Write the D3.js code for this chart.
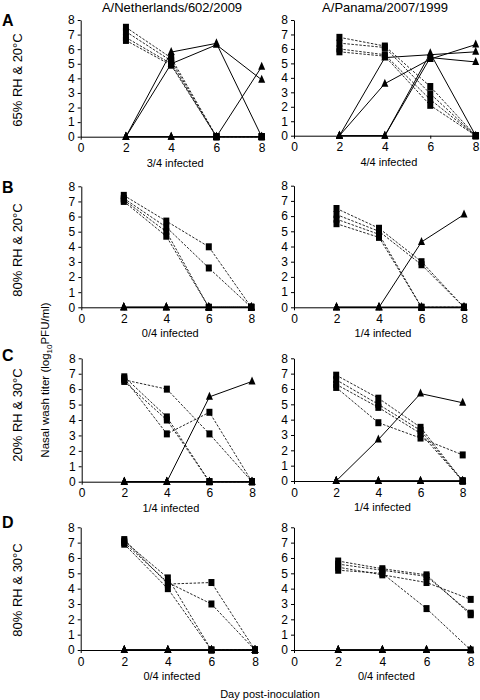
<!DOCTYPE html>
<html><head><meta charset="utf-8">
<script src="https://cdn.jsdelivr.net/npm/d3@7"></script>
<style>
body{margin:0;background:#fff;}
svg{display:block;font-family:"Liberation Sans",Arial,sans-serif;}
</style></head>
<body><svg id="c" width="480" height="700"></svg>
<script>
// ---------- data ----------
const days = [2, 4, 6, 8];
const yTicks = [0, 1, 2, 3, 4, 5, 6, 7, 8];
const xTicks = [0, 2, 4, 6, 8];
const strains = ["A/Netherlands/602/2009", "A/Panama/2007/1999"];
const conditions = ["65% RH & 20°C", "80% RH & 20°C", "20% RH & 30°C", "80% RH & 30°C"];
const rowLetters = ["A", "B", "C", "D"];
const infectedLabels = [["3/4 infected", "4/4 infected"], ["0/4 infected", "1/4 infected"], ["1/4 infected", "1/4 infected"], ["0/4 infected", "0/4 infected"]];

// inoculated (squares, dashed) and exposed (triangles, solid): titer per day 2,4,6,8
const nl65_inoc = [[7.5, 5.4, 0, 0], [7.2, 5.2, 0, 0], [6.8, 5.0, 0, 0], [6.6, 4.9, 0, 0]];
const nl65_contact = [[0, 5.8, 6.4, 0], [0, 5.0, 6.3, 3.9], [0, 0, 0, 4.8], [0, 0, 0, 0]];
const pa65_inoc = [[6.8, 6.2, 3.4, 0], [6.4, 6.1, 2.9, 0], [6.0, 5.6, 2.5, 0], [5.8, 5.5, 2.1, 0]];
const pa65_contact = [[0, 5.4, 5.6, 5.8], [0, 3.6, 5.3, 6.3], [0, 0, 5.7, 0], [0, 0, 5.4, 5.1]];
const nl80_20_inoc = [[7.4, 5.7, 4.0, 0], [7.2, 5.3, 2.6, 0], [7.1, 5.0, 0, 0], [7.0, 4.7, 0, 0]];
const nl80_20_contact = [[0, 0, 0, 0], [0, 0, 0, 0], [0, 0, 0, 0], [0, 0, 0, 0]];
const pa80_20_inoc = [[6.5, 5.2, 3.0, 0], [6.1, 5.0, 2.8, 0], [5.8, 4.8, 0, 0], [5.5, 4.6, 0, 0]];
const pa80_20_contact = [[0, 0, 4.3, 6.1], [0, 0, 0, 0], [0, 0, 0, 0], [0, 0, 0, 0]];
const nl20_30_inoc = [[6.6, 6.0, 3.1, 0], [6.8, 4.2, 0, 0], [6.5, 4.0, 0, 0], [6.7, 3.1, 4.5, 0]];
const nl20_30_contact = [[0, 0, 5.5, 6.5], [0, 0, 0, 0], [0, 0, 0, 0], [0, 0, 0, 0]];
const pa20_30_inoc = [[6.9, 5.4, 3.5, 0], [6.6, 5.0, 3.3, 0], [6.3, 4.8, 3.1, 0], [6.1, 3.8, 2.8, 1.7]];
const pa20_30_contact = [[0, 2.7, 5.7, 5.1], [0, 0, 0, 0], [0, 0, 0, 0], [0, 0, 0, 0]];
const nl80_30_inoc = [[7.2, 4.3, 4.4, 0], [7.0, 4.4, 3.0, 0], [7.1, 4.7, 0, 0], [6.9, 4.0, 0, 0]];
const nl80_30_contact = [[0, 0, 0, 0], [0, 0, 0, 0], [0, 0, 0, 0], [0, 0, 0, 0]];
const pa80_30_inoc = [[5.8, 5.3, 4.9, 2.3], [5.6, 5.2, 4.8, 2.4], [5.4, 4.9, 4.4, 3.3], [5.2, 5.0, 2.7, 0]];
const pa80_30_contact = [[0, 0, 0, 0], [0, 0, 0, 0], [0, 0, 0, 0], [0, 0, 0, 0]];

const panelData = [
  [[nl65_inoc, nl65_contact], [pa65_inoc, pa65_contact]],
  [[nl80_20_inoc, nl80_20_contact], [pa80_20_inoc, pa80_20_contact]],
  [[nl20_30_inoc, nl20_30_contact], [pa20_30_inoc, pa20_30_contact]],
  [[nl80_30_inoc, nl80_30_contact], [pa80_30_inoc, pa80_30_contact]]
];

// ---------- layout ----------
const layout = [
  [{x0: 80.7, x1: 261.7, y0: 136.7, y1: 20}, {x0: 294, x1: 475.7, y0: 135.7, y1: 20}],
  [{x0: 81.3, x1: 251.3, y0: 307.3, y1: 186.3}, {x0: 294, x1: 464, y0: 307.3, y1: 185.7}],
  [{x0: 81.7, x1: 252, y0: 481.7, y1: 358.3}, {x0: 294, x1: 462.7, y0: 481, y1: 358.3}],
  [{x0: 80.7, x1: 255, y0: 650, y1: 527.3}, {x0: 294, x1: 470.7, y0: 650, y1: 527.3}]
];
const letterY = [26, 193, 361, 528];
const condY = [80, 250, 415, 590];

const svg = d3.select("#c");

// column titles
svg.selectAll("text.title").data(strains).join("text")
  .attr("x", (d, i) => i === 0 ? 172 : 385).attr("y", 12)
  .attr("text-anchor", "middle").attr("font-size", 13).text(d => d);

rowLetters.forEach((L, r) => {
  svg.append("text").attr("x", 2).attr("y", letterY[r])
    .attr("font-size", 16).attr("font-weight", "bold").text(L);
  svg.append("text").attr("transform", `translate(22,${condY[r]}) rotate(-90)`)
    .attr("text-anchor", "middle").attr("font-size", 13).text(conditions[r]);
});

// y axis title
const yt = svg.append("text").attr("transform", "translate(49,380) rotate(-90)")
  .attr("text-anchor", "middle").attr("font-size", 11.5);
yt.append("tspan").text("Nasal wash titer (log");
yt.append("tspan").attr("font-size", 8).attr("dy", 3).text("10");
yt.append("tspan").attr("dy", -3).text("PFU/ml)");

svg.append("text").attr("x", 270).attr("y", 698).attr("text-anchor", "middle")
  .attr("font-size", 11).text("Day post-inoculation");

const triPath = "M0,-5L3.5,3L-3.5,3Z";

panelData.forEach((row, r) => {
  row.forEach(([inoc, contact], c) => {
    const L = layout[r][c];
    const x = d3.scaleLinear().domain([0, 8]).range([L.x0, L.x1]);
    const y = d3.scaleLinear().domain([0, 8]).range([L.y0, L.y1]);
    const g = svg.append("g");

    const ya = g.append("g").attr("transform", `translate(${L.x0},0)`)
      .call(d3.axisLeft(y).tickValues(yTicks).tickSize(3).tickSizeOuter(0).tickPadding(3).tickFormat(d3.format("d")));
    const xa = g.append("g").attr("transform", `translate(0,${L.y0})`)
      .call(d3.axisBottom(x).tickValues(xTicks).tickSize(3).tickSizeOuter(0).tickPadding(4).tickFormat(d3.format("d")));
    [ya, xa].forEach(a => {
      a.selectAll("text").attr("font-size", 12).attr("fill", "#000")
        .attr("font-family", "Liberation Sans, Arial, sans-serif");
      a.selectAll("path,line").attr("stroke", "#000");
    });

    g.append("text").attr("x", (L.x0 + L.x1) / 2 + 4).attr("y", L.y0 + 30)
      .attr("text-anchor", "middle").attr("font-size", 11).text(infectedLabels[r][c]);

    const line = d3.line().x((d, i) => x(days[i])).y(d => y(d));
    // inoculated: dashed
    g.selectAll("path.inoc").data(inoc).join("path")
      .attr("d", line).attr("fill", "none").attr("stroke", "#111")
      .attr("stroke-width", 0.9).attr("stroke-dasharray", "2.5,1.5");
    // contacts: solid
    g.selectAll("path.cont").data(contact).join("path")
      .attr("d", line).attr("fill", "none").attr("stroke", "#000").attr("stroke-width", 1);

    // triangle markers
    contact.forEach(s => s.forEach((v, i) => {
      g.append("path").attr("d", triPath)
        .attr("transform", `translate(${x(days[i])},${y(v)})`).attr("fill", "#000");
    }));
    // square markers
    inoc.forEach(s => s.forEach((v, i) => {
      g.append("rect").attr("x", x(days[i]) - 3).attr("y", y(v) - 3.5)
        .attr("width", 6).attr("height", 7).attr("fill", "#000");
    }));
  });
});
</script></body></html>
